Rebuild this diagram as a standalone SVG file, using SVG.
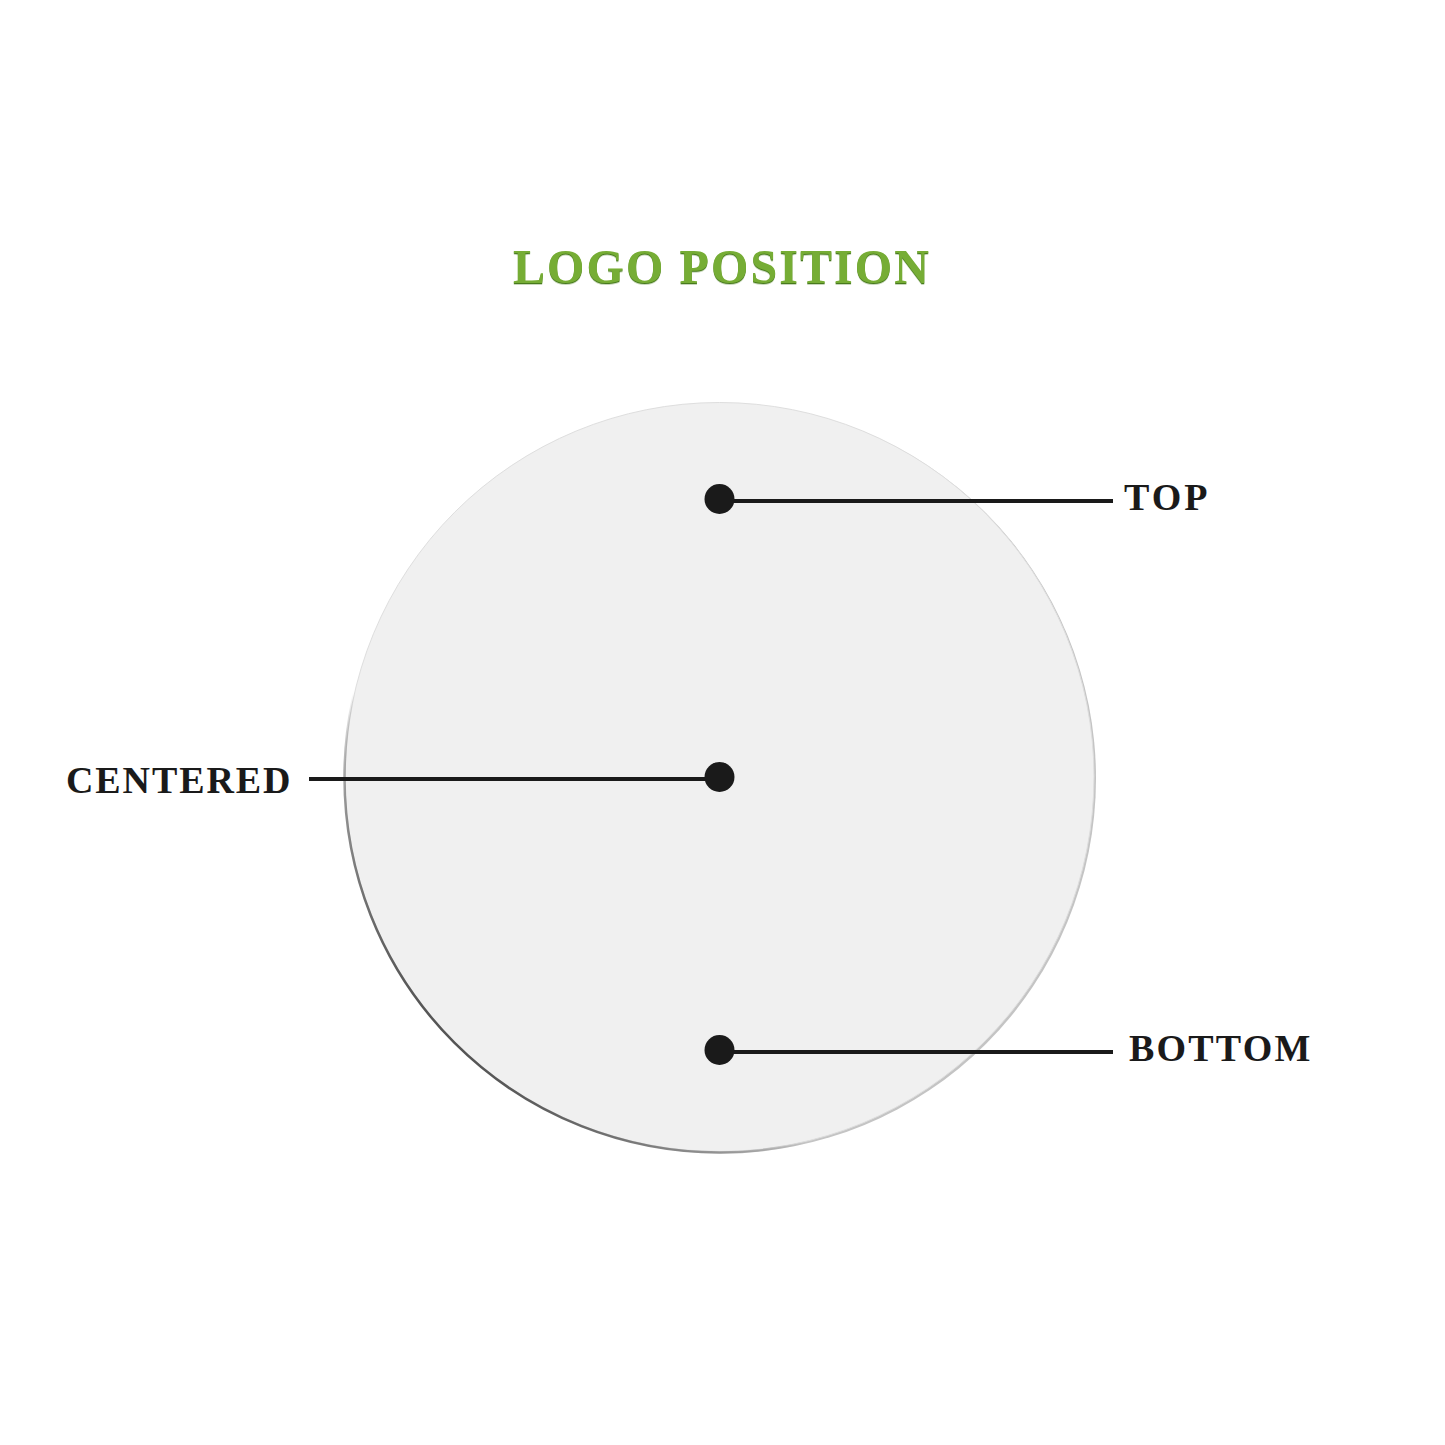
<svg xmlns="http://www.w3.org/2000/svg" width="1445" height="1445" viewBox="0 0 1445 1445">
<defs>
<linearGradient id="rim" gradientUnits="userSpaceOnUse" x1="579.500" y1="917" x2="454.500" y2="1042">
<stop offset="0" stop-color="#6a6a6a" stop-opacity="0"/>
<stop offset=".45" stop-color="#808080" stop-opacity=".8"/>
<stop offset="1" stop-color="#555555"/>
</linearGradient>
<filter id="bevel" x="-5%" y="-20%" width="110%" height="140%">
<feDropShadow dx="0" dy="1.300" stdDeviation=".3" flood-color="#467a1e"/>
</filter>
</defs>
<style>
text{font-family:"Liberation Serif","Times New Roman",serif;font-weight:700}
.l{font-size:38px;fill:#1a1a1a}
.t{font-size:48px;fill:#76ad34;letter-spacing:2.100px;filter:url(#bevel)}
.c{stroke:#1a1a1a;stroke-width:4;fill:none}
.d{fill:#1a1a1a}
</style>
<rect width="1445" height="1445" fill="#fff"/>
<g id="title"><text class="t" x="513" y="283">LOGO POSITION</text></g>
<g id="disc">
<circle cx="721" cy="778.500" r="375" fill="#c4c4c4"/>
<circle cx="719.500" cy="777" r="374.500" fill="#f0f0f0" stroke="#dedede" stroke-width="1"/>
<circle cx="719.500" cy="777.500" r="375" fill="none" stroke="url(#rim)" stroke-width="2.500"/>
</g>
<g id="connectors">
<line class="c" x1="720" y1="501" x2="1113" y2="501"/>
<line class="c" x1="309" y1="779" x2="720" y2="779"/>
<line class="c" x1="720" y1="1052" x2="1113" y2="1052"/>
</g>
<g id="top"><circle class="d" cx="719.500" cy="499" r="15"/><text class="l" x="1124" y="510" letter-spacing="3">TOP</text></g>
<g id="centered"><circle class="d" cx="719.500" cy="777" r="15"/><text class="l" x="66" y="793" letter-spacing="1.900">CENTERED</text></g>
<g id="bottom"><circle class="d" cx="719.500" cy="1050" r="15"/><text class="l" x="1129" y="1061" letter-spacing="2.200">BOTTOM</text></g>
</svg>
